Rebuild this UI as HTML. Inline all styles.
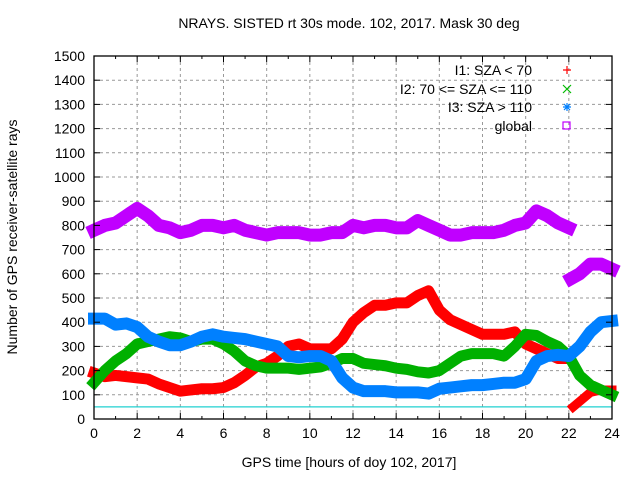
<!DOCTYPE html>
<html><head><meta charset="utf-8"><style>
body{margin:0;background:#fff}
svg text{font-family:"Liberation Sans",sans-serif;font-size:14px;fill:#000}
</style></head><body>
<svg id="chart" width="640" height="480" xmlns="http://www.w3.org/2000/svg">
<text x="349" y="28" text-anchor="middle">NRAYS. SISTED rt 30s mode. 102, 2017. Mask 30 deg</text>
<text x="349" y="467" text-anchor="middle">GPS time [hours of doy 102, 2017]</text>
<text transform="translate(17,237) rotate(-90)" text-anchor="middle">Number of GPS receiver-satellite rays</text>
<g id="grid"></g><g id="series"></g><g id="axes"></g>
<g>
<text x="532" y="75" text-anchor="end">I1: SZA &lt; 70</text>
<text x="532" y="94" text-anchor="end">I2: 70 &lt;= SZA &lt;= 110</text>
<text x="532" y="112" text-anchor="end">I3: SZA &gt; 110</text>
<text x="532" y="131" text-anchor="end">global</text>
<path d="M563 70h8M567 66v8" stroke="#f00" stroke-width="1.2"/>
<path d="M563 85l8 8M571 85l-8 8" stroke="#0b0" stroke-width="1.2"/>
<path d="M563 107h8M567 103v8M564 104l6 6M570 104l-6 6" stroke="#0080ff" stroke-width="1.2"/>
<rect x="563" y="122" width="7" height="7" fill="none" stroke="#c000ff" stroke-width="1.2"/>
</g>
</svg>
<script>
const hours=[0,0.5,1,1.5,2,2.5,3,3.5,4,4.5,5,5.5,6,6.5,7,7.5,8,8.5,9,9.5,10,10.5,11,11.5,12,12.5,13,13.5,14,14.5,15,15.5,16,16.5,17,17.5,18,18.5,19,19.5,20,20.5,21,21.5,22];
const globalA=[780,800,810,840,870,840,800,790,770,780,800,800,790,800,780,770,760,770,770,770,760,760,770,770,800,790,800,800,790,790,820,800,780,760,760,770,770,770,780,800,810,860,840,810,790];
const globalHoursB=[22.1,22.5,23,23.5,24];
const globalB=[580,600,640,640,620];
const red=[190,175,180,175,170,165,145,130,115,120,125,125,130,150,180,215,230,260,300,310,290,290,290,330,400,440,470,470,480,480,510,530,450,410,390,370,350,350,350,360,310,290,270,250,250];
const redHoursB=[22.2,22.6,23,23.5,24];
const redB=[50,80,110,120,120];
const hoursFull=hours.concat([22.5,23,23.5,24]);
const green=[150,200,240,270,310,320,330,340,335,320,330,330,310,280,240,220,210,210,210,205,210,215,230,250,250,230,225,220,210,205,195,190,200,230,260,270,270,270,260,300,350,345,320,300,260,180,140,120,100];
const blue=[415,415,390,395,380,340,320,305,305,320,340,350,340,335,330,320,310,300,260,255,260,260,240,170,130,115,115,115,110,110,110,105,125,130,135,140,140,145,150,150,165,240,260,265,260,300,360,400,405];
const xTicks=[0,2,4,6,8,10,12,14,16,18,20,22,24];
const yTicks=[0,100,200,300,400,500,600,700,800,900,1000,1100,1200,1300,1400,1500];
const X0=94,X1=612,Y0=419,Y1=56;
const sx=h=>X0+h/24*(X1-X0), sy=v=>Y0-v/1500*(Y0-Y1);
const NS="http://www.w3.org/2000/svg";
function mk(t,a,p){const e=document.createElementNS(NS,t);for(const k in a)e.setAttribute(k,a[k]);p.appendChild(e);return e;}
const grid=document.getElementById('grid'),ser=document.getElementById('series'),ax=document.getElementById('axes');
xTicks.forEach(t=>{
 if(t>0&&t<24){const l=mk('line',{x1:sx(t),x2:sx(t),y1:Y0,y2:Y1,stroke:'#999','stroke-dasharray':'3,3'},grid);
 
 }
 const tx=mk('text',{x:sx(t),y:Y0+19,'text-anchor':'middle'},ax);tx.textContent=t;
 
 
 mk('line',{x1:sx(t),x2:sx(t),y1:Y0,y2:Y0-6,stroke:'#000'},ax);mk('line',{x1:sx(t),x2:sx(t),y1:Y1,y2:Y1+6,stroke:'#000'},ax);
 if(t<24){mk('line',{x1:sx(t+1),x2:sx(t+1),y1:Y0,y2:Y0-3,stroke:'#000'},ax);mk('line',{x1:sx(t+1),x2:sx(t+1),y1:Y1,y2:Y1+3,stroke:'#000'},ax);}
});
yTicks.forEach(t=>{
 if(t>0&&t<1500){const l=mk('line',{x1:X0,x2:X1,y1:sy(t),y2:sy(t),stroke:'#999','stroke-dasharray':'3,3'},grid);
 
 }
 const tx=mk('text',{x:X0-9,y:sy(t)+5,'text-anchor':'end'},ax);tx.textContent=t;
 
 
 mk('line',{x1:X0,x2:X0+6,y1:sy(t),y2:sy(t),stroke:'#000'},ax);mk('line',{x1:X1,x2:X1-6,y1:sy(t),y2:sy(t),stroke:'#000'},ax);
});
const cy=mk('line',{x1:X0,x2:X1,y1:sy(50),y2:sy(50),stroke:'#20d0d0','stroke-width':1.3},grid);


const fr=mk('rect',{x:X0,y:Y1,width:X1-X0,height:Y0-Y1,fill:'none',stroke:'#000','stroke-width':1.3},ax);


function line(hs,vs,col,w,name){
 const p=mk('polyline',{points:hs.map((h,i)=>sx(h)+','+sy(vs[i])).join(' '),fill:'none',stroke:col,'stroke-width':w,'stroke-linejoin':'round','stroke-linecap':'square'},ser);
 
 
}
line(hours,globalA,'#c000ff',13,'series-global');
line(globalHoursB,globalB,'#c000ff',13,'series-global-late');
line(hours,red,'#f00',11,'series-i1');
line(redHoursB,redB,'#f00',9,'series-i1-late');
line(hoursFull,green,'#00b000',11,'series-i2');
line(hoursFull,blue,'#0080ff',12,'series-i3');
</script>
</body></html>
